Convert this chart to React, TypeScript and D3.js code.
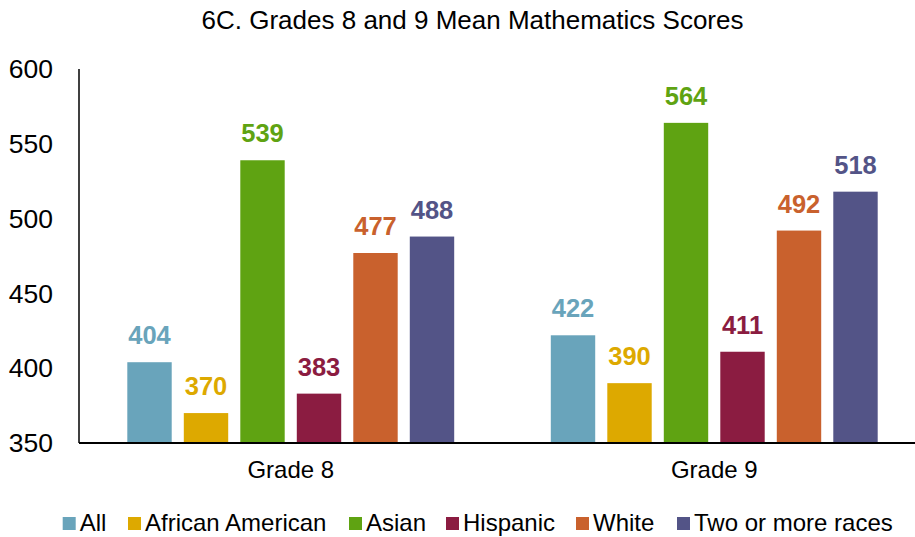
import React from "react";
import * as d3 from "d3";

const categories = ["Grade 8", "Grade 9"];
const seriesNames = ["All", "African American", "Asian", "Hispanic", "White", "Two or more races"];
const grade8Values = [404, 370, 539, 383, 477, 488];
const grade9Values = [422, 390, 564, 411, 492, 518];
const yTicks = [350, 400, 450, 500, 550, 600];
const seriesColors = ["#69A4BB", "#DDA900", "#5FA312", "#8B1C41", "#C9612D", "#535487"];
const title = "6C. Grades 8 and 9 Mean Mathematics Scores";

const W = 915;
const H = 537;
const FONT = "'Liberation Sans', Arial, sans-serif";

export default function App() {
  const valuesByCat = [grade8Values, grade9Values];
  const x0 = d3.scaleBand<string>().domain(categories).range([79, 926]).padding(0);
  const x1 = d3
    .scaleBand<string>()
    .domain(seriesNames)
    .range([0, x0.bandwidth()])
    .paddingInner(0.214)
    .paddingOuter(0.855);
  const y = d3.scaleLinear().domain([350, 600]).range([443, 69]);

  const legendX = [62.7, 128, 349, 446, 576, 677];

  return (
    <svg
      width={W}
      height={H}
      style={{ position: "absolute", left: 0, top: 0, background: "#fff" }}
      fontFamily={FONT}
    >
      <rect x={0} y={0} width={W} height={H} fill="#fff" />
      <text x={472.5} y={29} textAnchor="middle" fontSize={26} fill="#000">
        {title}
      </text>

      {yTicks.map((t) => (
        <text key={t} x={53} y={y(t)} dy="0.35em" textAnchor="end" fontSize={26.5} fill="#000">
          {t}
        </text>
      ))}

      {categories.map((c, ci) => (
        <g key={c} transform={`translate(${x0(c)},0)`}>
          {seriesNames.map((s, si) => {
            const v = valuesByCat[ci][si];
            const bx = x1(s)!;
            return (
              <g key={s}>
                <rect
                  x={bx}
                  y={y(v)}
                  width={x1.bandwidth()}
                  height={y(350) - y(v)}
                  fill={seriesColors[si]}
                />
                <text
                  x={bx + x1.bandwidth() / 2}
                  y={y(v) - 18}
                  textAnchor="middle"
                  fontSize={25.5}
                  fontWeight="bold"
                  fill={seriesColors[si]}
                >
                  {v}
                </text>
              </g>
            );
          })}
          <text
            x={x0.bandwidth() / 2}
            y={478}
            textAnchor="middle"
            fontSize={24}
            fill="#000"
          >
            {c}
          </text>
        </g>
      ))}

      <line x1={79} x2={79} y1={69} y2={443} stroke="#000" strokeWidth={1.5} />
      <line x1={79} x2={W} y1={443} y2={443} stroke="#000" strokeWidth={2} />

      {seriesNames.map((s, i) => (
        <g key={s} transform={`translate(${legendX[i]},0)`}>
          <rect x={0} y={517} width={13} height={13} fill={seriesColors[i]} />
          <text x={17} y={531} fontSize={24} fill="#000">
            {s}
          </text>
        </g>
      ))}
    </svg>
  );
}
